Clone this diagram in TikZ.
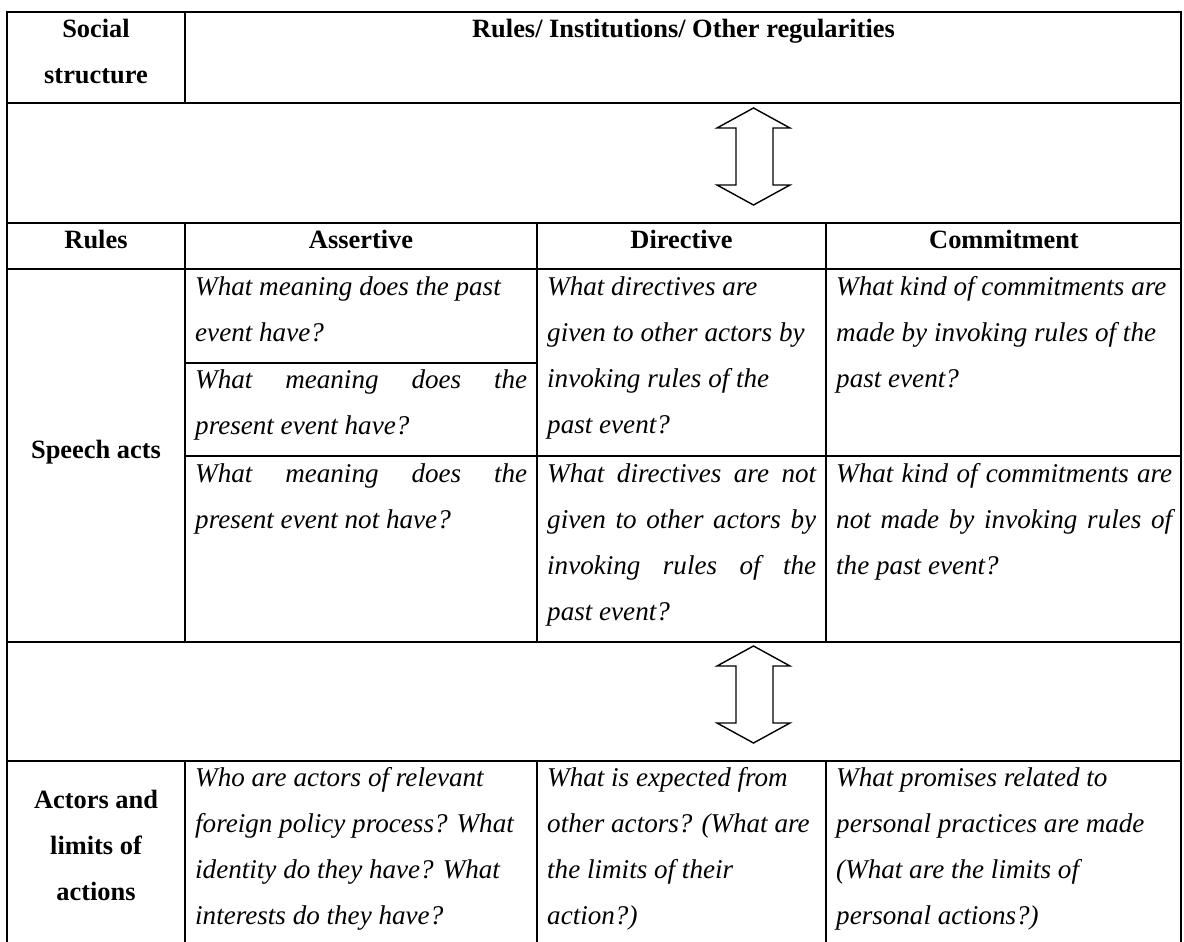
\documentclass[tikz,border=0pt]{standalone}
\usepackage{fontspec}
\setmainfont{Liberation Serif}
\newcommand\J[2]{\makebox[#1][s]{#2}}
\tikzset{
  grid/.style={line width=2.2pt, line cap=rect},
  dbl/.style={line width=1.4pt, line join=miter, fill=white},
  hd/.style={font={\fontsize{26.4}{46}\selectfont\bfseries}, inner sep=0pt, anchor=north, align=center},
  it/.style={font={\fontsize{27.1}{46}\selectfont\itshape}, inner sep=0pt, anchor=north west, align=left},
}
\begin{document}
\begin{tikzpicture}[x=1pt,y=-1pt]
\useasboundingbox (0,0) rectangle (1184,942);
% grid lines
\draw[grid] (7,12) -- (1181,12);
\draw[grid] (7,103) -- (1181,103);
\draw[grid] (7,223) -- (1181,223);
\draw[grid] (7,269) -- (1181,269);
\draw[grid] (185,363) -- (537,363);
\draw[grid] (185,456) -- (1181,456);
\draw[grid] (7,642) -- (1181,642);
\draw[grid] (7,761) -- (1181,761);
\draw[grid] (7,12) -- (7,950);
\draw[grid] (1181,12) -- (1181,950);
\draw[grid] (185,12) -- (185,103);
\foreach \x in {185,537,826} {
  \draw[grid] (\x,223) -- (\x,642);
  \draw[grid] (\x,761) -- (\x,950);
}
% double arrows
\draw[dbl] (753.5,108) -- (790,128) -- (773,128) -- (773,185) -- (790,185) -- (753.5,205)
  -- (717,185) -- (736,185) -- (736,128) -- (717,128) -- cycle;
\draw[dbl] (753.5,646) -- (790,666) -- (773,666) -- (773,723) -- (790,723) -- (753.5,743)
  -- (717,723) -- (736,723) -- (736,666) -- (717,666) -- cycle;
% header texts
\node[hd] (social) at (96,4.8) {\strut Social\\\strut structure};
\node[hd] (rir) at (683.5,4.8) {\strut Rules/ Institutions/ Other regularities};
\node[hd] (rules) at (96,215.8) {\strut Rules};
\node[hd] (assertive) at (361,215.8) {\strut Assertive};
\node[hd] (directive) at (681.5,215.8) {\strut Directive};
\node[hd] (commitment) at (1004,215.8) {\strut Commitment};
\node[hd] (speech) at (96,425.8) {\strut Speech acts};
\node[hd] (actors) at (96,775.8) {\strut Actors and\\\strut limits of\\\strut actions};
% speech act cells
\node[it] (a1) at (195,262.8) {\strut What meaning does the past\\\strut event have?};
\node[it] (a2) at (195,355.8) {\strut\J{332pt}{What meaning does the}\\\strut present event have?};
\node[it] (a3) at (195,449.8) {\strut\J{332pt}{What meaning does the}\\\strut present event not have?};
\node[it] (d1) at (547,262.8) {\strut What directives are\\\strut given to other actors by\\\strut invoking rules of the\\\strut past event?};
\node[it] (d2) at (547,449.8) {\strut\J{269pt}{What directives are not}\\\strut\J{269pt}{given to other actors by}\\\strut\J{269pt}{invoking rules of the}\\\strut past event?};
\node[it] (c1) at (836,262.8) {\strut What kind of commitments are\\\strut made by invoking rules of the\\\strut past event?};
\node[it] (c2) at (836,449.8) {\strut\J{336pt}{What kind of commitments are}\\\strut\J{336pt}{not made by invoking rules of}\\\strut the past event?};
% actors cells
\node[it] (a4) at (195,753.8) {\strut Who are actors of relevant\\\strut foreign policy process? What\\\strut identity do they have? What\\\strut interests do they have?};
\node[it] (d4) at (547,753.8) {\strut What is expected from\\\strut other actors? (What are\\\strut the limits of their\\\strut action?)};
\node[it] (c4) at (836,753.8) {\strut What promises related to\\\strut personal practices are made\\\strut (What are the limits of\\\strut personal actions?)};
\end{tikzpicture}
\end{document}
